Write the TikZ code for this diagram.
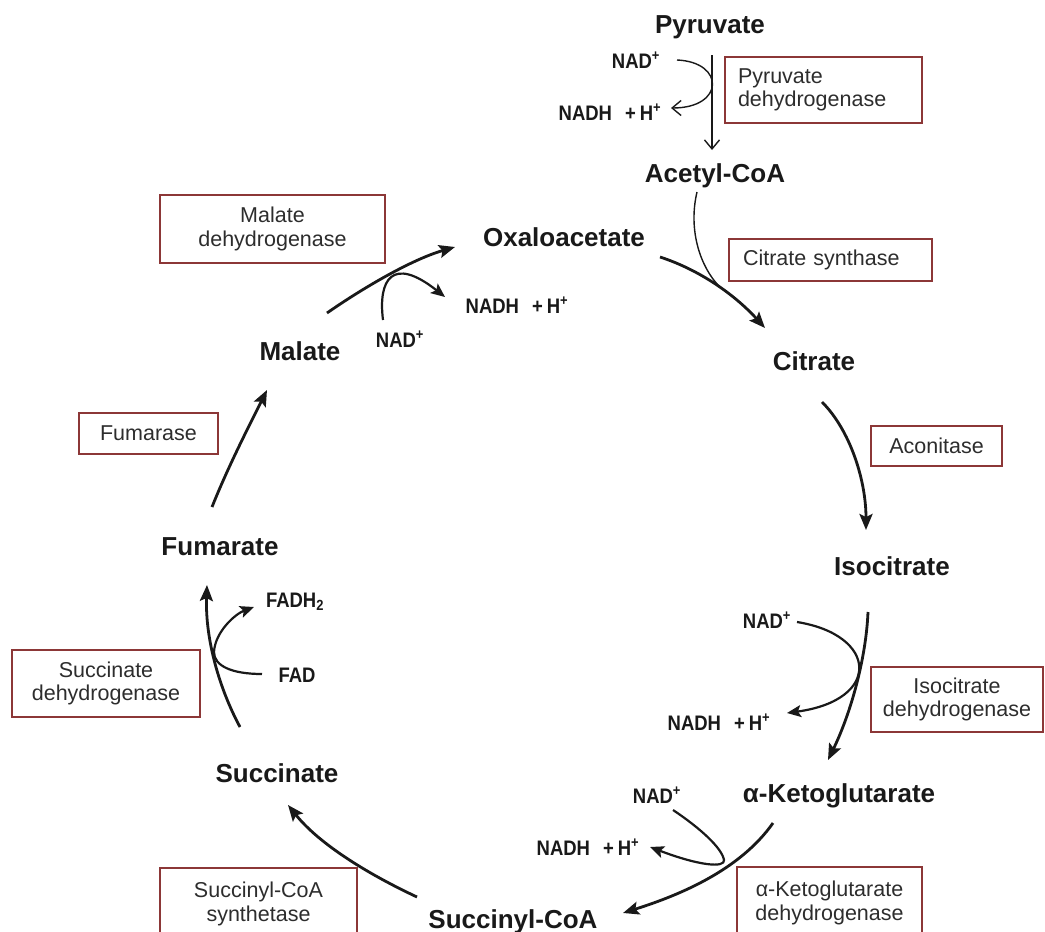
\documentclass[tikz,border=0pt]{standalone}
\usepackage{fontspec}
\setmainfont{Liberation Sans}
\newfontfamily\narrowfont[FakeStretch=0.88]{Liberation Sans}
\usetikzlibrary{arrows.meta}
\definecolor{boxred}{RGB}{140,55,55}
\definecolor{ink}{RGB}{25,25,25}
\definecolor{enzink}{RGB}{45,45,45}
\newcommand{\nadh}{NADH\hspace{13pt}+\hspace{4pt}H\textsuperscript{+}}
\begin{document}
\begin{tikzpicture}[x=1pt,y=-1pt,
  metab/.style={font=\fontsize{26}{30}\selectfont\bfseries, text=ink, inner sep=0pt, anchor=base},
  cofac/.style={font=\narrowfont\fontsize{21}{24}\selectfont\bfseries, text=ink, inner sep=0pt, anchor=base},
  enzbox/.style={draw=boxred, line width=1.4pt, fill=white, rectangle, inner sep=0pt,
    font=\fontsize{21.5}{23.5}\selectfont, text=enzink, align=center},
  cyc/.style={draw=ink, line width=2.8pt, -{Stealth[length=16pt,width=13pt,inset=3pt]}},
  sidearrow/.style={draw=ink, line width=2.2pt, -{Stealth[length=14pt,width=12pt,inset=3pt]}},
  fine/.style={draw=ink, line width=1.4pt},
  openhead/.style={-{Straight Barb[length=9pt,width=15pt]}},
]
\useasboundingbox (0,0) rectangle (1045,932);
\fill[white] (0,0) rectangle (1045,932);
\clip (0,0) rectangle (1045,932);

% metabolites
\node[metab] (pyr)  at (710,33)  {Pyruvate};
\node[metab] (acoa) at (715,182) {Acetyl-CoA};
\node[metab] (oaa)  at (564,246) {Oxaloacetate};
\node[metab] (cit)  at (814,370) {Citrate};
\node[metab] (icit) at (892,575) {Isocitrate};
\node[metab] (akg)  at (839,802) {α-Ketoglutarate};
\node[metab] (scoa) at (513,928) {Succinyl-CoA};
\node[metab] (succ) at (277,782) {Succinate};
\node[metab] (fum)  at (220,555) {Fumarate};
\node[metab] (mal)  at (300,360) {Malate};

% cofactors
\node[cofac] (nadp)  at (636,68)  {NAD\textsuperscript{+}};
\node[cofac] (nadhp) at (610,120) {\nadh};
\node[cofac] (nadm)  at (400,347) {NAD\textsuperscript{+}};
\node[cofac] (nadhm) at (517,313) {\nadh};
\node[cofac] (nadi)  at (767,628) {NAD\textsuperscript{+}};
\node[cofac] (nadhi) at (719,730) {\nadh};
\node[cofac] (nadk)  at (657,803) {NAD\textsuperscript{+}};
\node[cofac] (nadhk) at (588,855) {\nadh};
\node[cofac] (fadh)  at (295,607) {FADH\textsubscript{2}};
\node[cofac] (fad)   at (297,682) {FAD};

% enzymes
\node[enzbox, minimum width=197pt, minimum height=66pt, align=left, text width=171pt] (pdh) at (823.5,90) {Pyruvate\\dehydrogenase};
\node[enzbox, minimum width=225pt, minimum height=68pt] (mdh) at (272.5,229) {Malate\\dehydrogenase};
\node[enzbox, minimum width=203pt, minimum height=42pt, align=left, text width=175pt] (cs) at (830.5,260) {Citrate synthase};
\node[enzbox, minimum width=131pt, minimum height=40pt] (acon) at (936.5,446) {Aconitase};
\node[enzbox, minimum width=172pt, minimum height=65pt] (idh) at (957,699.5) {Isocitrate\\dehydrogenase};
\node[enzbox, minimum width=185pt, minimum height=72pt] (akgdh) at (829.5,903) {α-Ketoglutarate\\dehydrogenase};
\node[enzbox, minimum width=197pt, minimum height=72pt] (scs) at (258.5,904) {Succinyl-CoA\\synthetase};
\node[enzbox, minimum width=188pt, minimum height=67pt] (sdh) at (106,683.5) {Succinate\\dehydrogenase};
\node[enzbox, minimum width=139pt, minimum height=41pt] (fumase) at (148.5,433.5) {Fumarase};

% pyruvate dehydrogenase step
\draw[fine, openhead] ([shift={(2,22)}]pyr.base) -- ([shift={(-3,-32)}]acoa.base);
\draw[fine, openhead] ([shift={(41,-8)}]nadp.base)
  .. controls (725,62) and (725,108) .. ([shift={(61,-12)}]nadhp.base);

% the cycle
\draw[cyc] ([shift={(96,11)}]oaa.base)
  .. controls (700,270) and (735,295) .. ([shift={(-49,-42)}]cit.base)
  coordinate[pos=0.55] (merge);
\draw[fine] ([shift={(-18,10)}]acoa.base) .. controls (688,230) and (700,268) .. (merge);

\draw[cyc] ([shift={(8,32)}]cit.base)
  .. controls (850,430) and (866,480) .. ([shift={(-26,-45)}]icit.base);

\draw[cyc] ([shift={(-24,37)}]icit.base)
  .. controls (866,660) and (850,715) .. ([shift={(-11,-42)}]akg.base);
\draw[sidearrow] ([shift={(30,-6)}]nadi.base)
  .. controls (878,635) and (882,700) .. ([shift={(68,-17)}]nadhi.base);

\draw[cyc] ([shift={(-66,21)}]akg.base)
  .. controls (740,870) and (680,895) .. ([shift={(110,-15)}]scoa.base);
\draw[sidearrow] ([shift={(16,7)}]nadk.base)
  .. controls (700,828) and (722,848) .. (724,860)
  .. controls (725,868) and (700,866) .. ([shift={(62,-8)}]nadhk.base);

\draw[cyc] ([shift={(-96,-31)}]scoa.base)
  .. controls (370,875) and (320,845) .. ([shift={(11,23)}]succ.base);

\draw[cyc] ([shift={(-37,-55)}]succ.base)
  .. controls (220,690) and (205,640) .. ([shift={(-13,30)}]fum.base);
\draw[sidearrow] ([shift={(-35,-8)}]fad.base)
  .. controls (232,674) and (214,666) .. (214,652)
  .. controls (215,632) and (235,614) .. ([shift={(-41,0)}]fadh.base);

\draw[cyc] ([shift={(-8,-48)}]fum.base)
  .. controls (228,467) and (248,428) .. ([shift={(-33,30)}]mal.base);

\draw[cyc] ([shift={(27,-47)}]mal.base)
  .. controls (360,290) and (410,260) .. ([shift={(-109,1)}]oaa.base);
\draw[sidearrow] ([shift={(-17,-27)}]nadm.base)
  .. controls (378,280) and (392,255) .. ([shift={(-72,-16)}]nadhm.base);
\end{tikzpicture}
\end{document}
